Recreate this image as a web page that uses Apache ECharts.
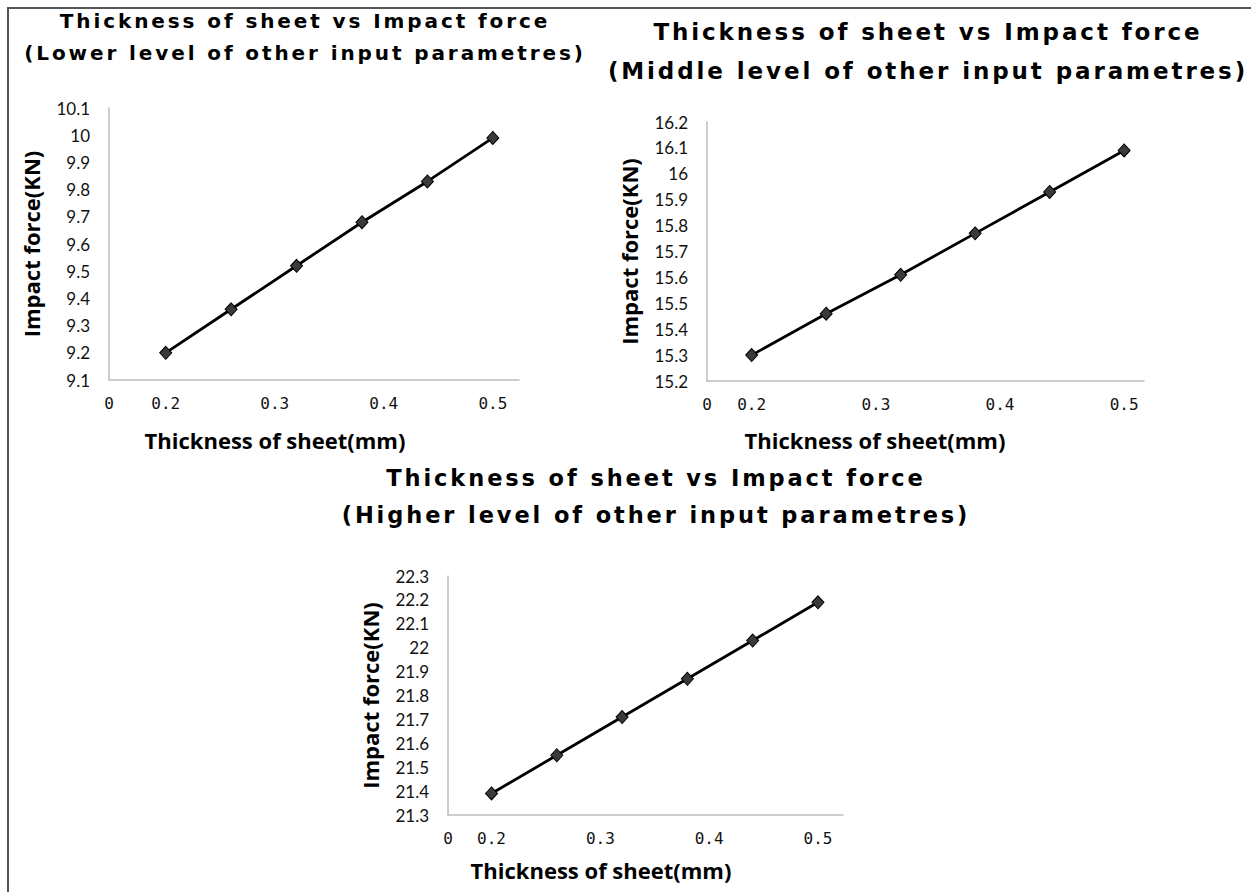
<!DOCTYPE html>
<html>
<head>
<meta charset="utf-8">
<title>Thickness of sheet vs Impact force</title>
<script src="https://cdn.jsdelivr.net/npm/echarts@6/dist/echarts.min.js"></script>
<style>
  html, body { margin: 0; padding: 0; background: #fff; }
  #chart { width: 1251px; height: 892px; }
  /* the titles in the original are spread out */
  #chart text[style*="DejaVu Sans"]:not([style*="Mono"]),
  #chart text[font-family*="DejaVu Sans"]:not([font-family*="Mono"]) { letter-spacing: 2.9px; }
</style>
</head>
<body>
<div id="chart"></div>
<script>
// thickness of sheet (mm), same for all three runs
const thickness = [0.2, 0.26, 0.32, 0.38, 0.44, 0.5]

// impact force (KN)
const forceLower = [9.2, 9.36, 9.52, 9.68, 9.83, 9.99]
const forceMiddle = [15.3, 15.46, 15.61, 15.77, 15.93, 16.09]
const forceHigher = [21.39, 21.55, 21.71, 21.87, 22.03, 22.19]

const xTickValues = [0.2, 0.3, 0.4, 0.5]
const yRangeLower = [9.1, 10.1]
const yRangeMiddle = [15.2, 16.2]
const yRangeHigher = [21.3, 22.3]

const titleLine1 = 'Thickness of sheet vs Impact force'
const levels = ['Lower', 'Middle', 'Higher']
const xName = 'Thickness of sheet(mm)'
const yName = 'Impact force(KN)'

// per-panel layout (pixels)
const panels = [
  { data: forceLower, yRange: yRangeLower, grid: { left: 109, top: 108, width: 410, height: 272 },
    xMin: 0.148, xMax: 0.524, title: { cx: 305, top: 5, size: 20, lh: 32 }, nameShift: 78, nameGap: 49 },
  { data: forceMiddle, yRange: yRangeMiddle, grid: { left: 707, top: 122, width: 437, height: 259 },
    xMin: 0.164, xMax: 0.516, title: { cx: 928, top: 12, size: 23, lh: 39 }, nameShift: 101, nameGap: 48 },
  { data: forceHigher, yRange: yRangeHigher, grid: { left: 448, top: 576, width: 395, height: 239 },
    xMin: 0.16, xMax: 0.523, title: { cx: 656, top: 459, size: 22.5, lh: 37 }, nameShift: 89, nameGap: 44 }
]

const axisLineStyle = { color: '#bdbdbd', width: 1.5 }
const yTickFont = { color: '#111', fontSize: 17, fontFamily: 'Lato' }
const xTickFont = { color: '#111', fontSize: 16, fontFamily: 'DejaVu Sans Mono' }
const nameFont = { color: '#000', fontSize: 22, fontWeight: 'bold', fontFamily: 'Open Sans' }

const chart = echarts.init(document.getElementById('chart'), null, { renderer: 'svg' })

chart.setOption({
  animation: false,
  backgroundColor: '#fff',
  title: panels.map((p, i) => ({
    text: titleLine1 + '\n(' + levels[i] + ' level of other input parametres)',
    left: p.title.cx,
    top: p.title.top,
    padding: 0,
    textAlign: 'center',
    textStyle: {
      fontFamily: 'DejaVu Sans',
      fontWeight: 'bold',
      fontSize: p.title.size,
      lineHeight: p.title.lh,
      color: '#000'
    }
  })),
  grid: panels.map(p => Object.assign({ containLabel: false }, p.grid)),
  xAxis: panels.map((p, i) => ({
    type: 'value',
    gridIndex: i,
    min: p.xMin,
    max: p.xMax,
    name: xName,
    nameLocation: 'middle',
    nameGap: p.nameGap,
    nameTextStyle: Object.assign({ padding: [0, p.nameShift, 0, 0] }, nameFont),
    axisLine: { lineStyle: axisLineStyle },
    axisTick: { show: false },
    splitLine: { show: false },
    axisLabel: Object.assign({
      margin: 15,
      customValues: [p.xMin].concat(xTickValues),
      formatter: v => (v === p.xMin ? '0' : String(v))
    }, xTickFont)
  })),
  yAxis: panels.map((p, i) => ({
    type: 'value',
    gridIndex: i,
    min: p.yRange[0],
    max: p.yRange[1],
    interval: 0.1,
    name: yName,
    nameLocation: 'middle',
    nameGap: 67,
    nameTextStyle: nameFont,
    axisLine: { show: true, lineStyle: axisLineStyle },
    axisTick: { show: false },
    splitLine: { show: false },
    axisLabel: Object.assign({
      margin: 19,
      formatter: v => String(+v.toFixed(1))
    }, yTickFont)
  })),
  series: panels.map((p, i) => ({
    type: 'line',
    xAxisIndex: i,
    yAxisIndex: i,
    data: thickness.map((t, j) => [t, p.data[j]]),
    symbol: 'diamond',
    symbolSize: [12, 13],
    lineStyle: { color: '#000', width: 2.8 },
    itemStyle: { color: '#3a3a3a', borderColor: '#000', borderWidth: 1 }
  })),
  graphic: [
    {
      type: 'polyline',
      shape: { points: [[8, 892], [8, 8], [1251, 8]] },
      style: { stroke: '#555', lineWidth: 2, fill: null }
    }
  ]
})
</script>
</body>
</html>
